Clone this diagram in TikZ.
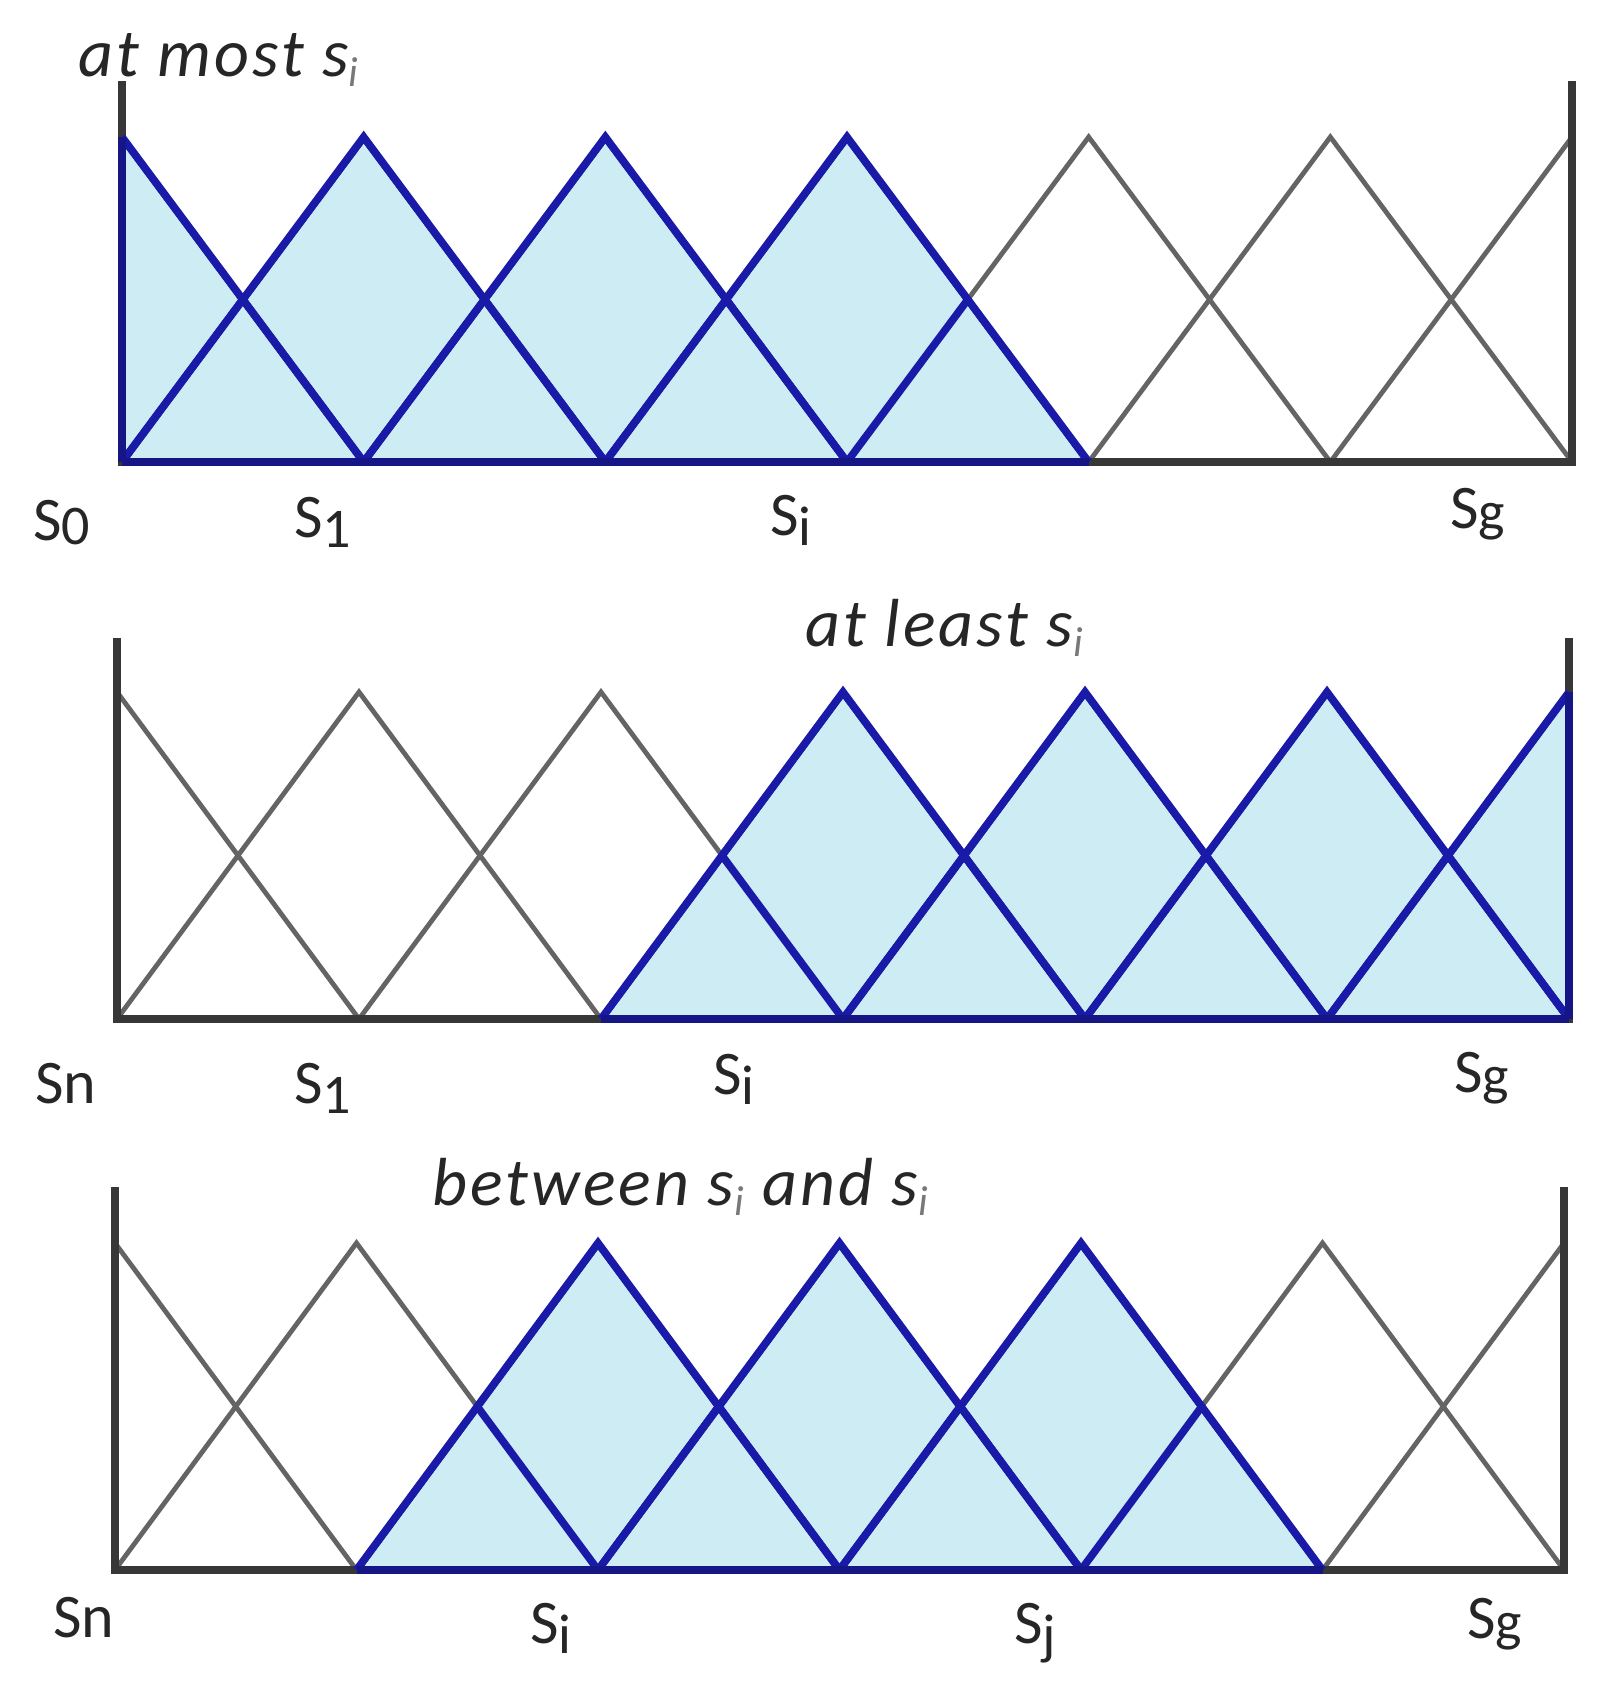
\documentclass[tikz,border=0pt]{standalone}
\usepackage{fontspec}
\setmainfont{Carlito}
\newfontfamily\titlefont[LetterSpace=4.5]{Carlito}
\definecolor{fillblue}{RGB}{206,236,243}
\definecolor{lineblue}{RGB}{26,26,168}
\definecolor{linegray}{RGB}{100,100,100}
\definecolor{axisgray}{RGB}{55,55,55}
\definecolor{txt}{RGB}{38,38,38}
\definecolor{subgray}{RGB}{120,120,120}
\tikzset{
  graytri/.style={draw=linegray, line width=2.4pt, line join=miter},
  bluetri/.style={draw=lineblue, line width=3.8pt, line join=miter},
  axisline/.style={draw=axisgray, line width=4.2pt, line join=miter},
  blueaxis/.style={draw=lineblue!80!black, line width=4.2pt},
  region/.style={fill=fillblue},
  title/.style={font=\titlefont\fontsize{34}{40}\selectfont\itshape, text=txt, inner sep=0pt, anchor=base west},
  lab/.style={font=\fontsize{31}{36}\selectfont, text=txt, inner sep=0pt, anchor=base west},
}
\newcommand{\tsub}{\raisebox{-5pt}{\fontsize{21}{24}\selectfont\color{subgray}i}}
\newcommand{\slab}[2]{S\raisebox{-#2}{\fontsize{28}{30}\selectfont #1}}
\newcommand{\mftriangles}[3]{%
  \foreach \k in {#2,...,#3}{%
    \ifnum\k=0 \draw[#1] (\XA,\YP) -- ({\XA+\ST},\YB);%
    \else\ifnum\k=6 \draw[#1] ({\XA+5*\ST},\YB) -- (\XB,\YP);%
    \else \draw[#1] ({\XA+(\k-1)*\ST},\YB) -- ({\XA+\k*\ST},\YP) -- ({\XA+(\k+1)*\ST},\YB);%
    \fi\fi}}
\newcommand{\mfpanel}[7]{%
  \pgfmathsetmacro{\XA}{#1}%
  \pgfmathsetmacro{\XB}{#2}%
  \pgfmathsetmacro{\ST}{(#2-#1)/6}%
  \pgfmathsetmacro{\YM}{(#4+#5)/2}%
  \pgfmathtruncatemacro{\RL}{max(#6-1,0)}%
  \pgfmathtruncatemacro{\RR}{min(#7+1,6)}%
  \pgfmathtruncatemacro{\BB}{#7-1}%
  \def\YP{#4}\def\YB{#5}%
  \mftriangles{graytri}{0}{6}%
  \draw[axisline] (\XA,#3) -- (\XA,#5) -- (\XB,#5) -- (\XB,#3);%
  \def\mfregion{({\XA+\RL*\ST},#5) -- ({\XA+#6*\ST},#4) \foreach \k in {#6,...,\BB}{ -- ({\XA+(\k+0.5)*\ST},\YM) -- ({\XA+(\k+1)*\ST},#4)} -- ({\XA+\RR*\ST},#5) -- cycle}%
  \fill[region] \mfregion;%
  \begin{scope}\clip \mfregion; \mftriangles{bluetri}{0}{6}\end{scope}%
  \mftriangles{bluetri}{#6}{#7}%
  \draw[blueaxis] ({\XA+\RL*\ST},#5) -- ({\XA+\RR*\ST},#5);%
  \ifnum#6=0 \draw[blueaxis] (\XA,#5) -- (\XA,#4);\fi
  \ifnum#7=6 \draw[blueaxis] (\XB,#5) -- (\XB,#4);\fi
}
\begin{document}
\begin{tikzpicture}[x=0.5pt,y=-0.5pt]
\useasboundingbox (0,0) rectangle (1615,1695);
\fill[white] (0,0) rectangle (1615,1695);
% panel 1: at most
\mfpanel{122}{1572}{81}{137}{462}{0}{3}
\node[title] (t1) at (78,77) {at most s\tsub};
\node[lab] (a0) at (33,540) {\slab{0}{2pt}};
\node[lab] (a1) at (294,537) {\slab{1}{5pt}};
\node[lab] (ai) at (770,535) {\slab{i}{5pt}};
\node[lab] (ag) at (1450,528) {\slab{g}{1pt}};
% panel 2: at least
\mfpanel{117}{1569}{638}{692}{1019}{3}{6}
\node[title] (t2) at (805,646) {at least s\tsub};
\node[lab] (b0) at (35,1103) {Sn};
\node[lab] (b1) at (294,1103) {\slab{1}{5pt}};
\node[lab] (bi) at (713,1094) {\slab{i}{5pt}};
\node[lab] (bg) at (1454,1092) {\slab{g}{1pt}};
% panel 3: between
\mfpanel{115}{1564}{1187}{1243}{1570}{2}{4}
\node[title] (t3) at (432,1205) {between s\tsub{} and s\tsub};
\node[lab] (c0) at (53,1637) {Sn};
\node[lab] (ci) at (530,1643) {\slab{i}{5pt}};
\node[lab] (cj) at (1014,1643) {\slab{j}{5pt}};
\node[lab] (cg) at (1467,1638) {\slab{g}{1pt}};
\end{tikzpicture}
\end{document}
